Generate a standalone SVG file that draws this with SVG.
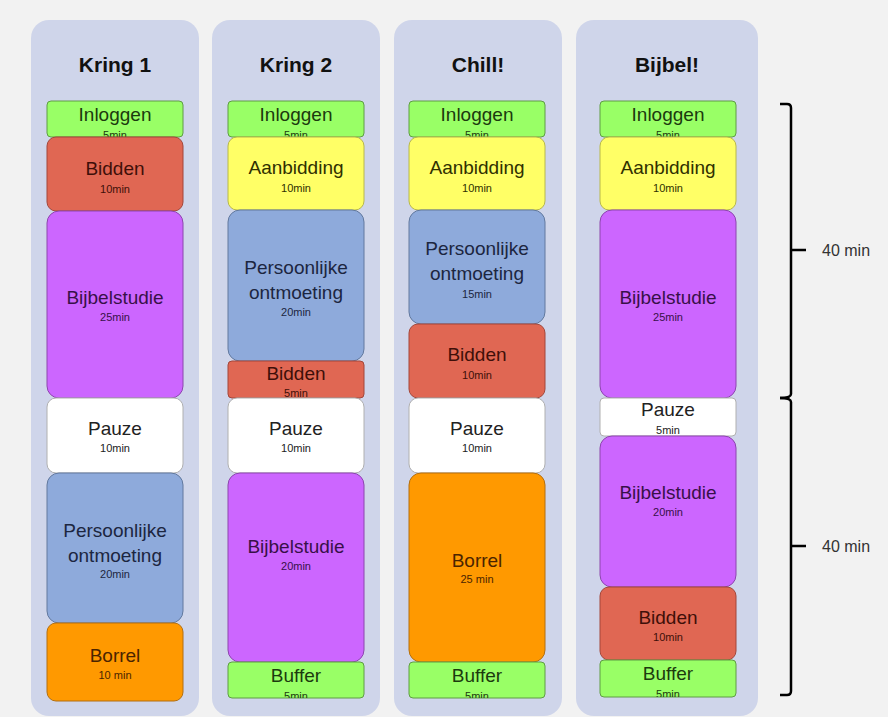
<svg xmlns="http://www.w3.org/2000/svg" width="888" height="717" viewBox="0 0 888 717">
<style>
text{font-family:"Liberation Sans",Arial,sans-serif;text-anchor:middle}
.title{font-size:21px;font-weight:bold;fill:#111}
.m{font-size:19px}
.s{font-size:11px}
.col{fill:#cfd5ea}
.green rect{fill:#99ff66;stroke:#5f9c45;stroke-width:1}
.green text{fill:#1c3a0e}
.red rect{fill:#e06753;stroke:#a3473a;stroke-width:1}
.red text{fill:#3e0f09}
.purple rect{fill:#cc66ff;stroke:#8c46ad;stroke-width:1}
.purple text{fill:#381048}
.yellow rect{fill:#ffff66;stroke:#b8b84a;stroke-width:1}
.yellow text{fill:#303000}
.blue rect{fill:#8eaadb;stroke:#62799e;stroke-width:1}
.blue text{fill:#1c2640}
.orange rect{fill:#ff9900;stroke:#b36f10;stroke-width:1}
.orange text{fill:#4a2400}
.white rect{fill:#ffffff;stroke:#b0b0b0;stroke-width:1}
.white text{fill:#222222}
.brace{fill:none;stroke:#000;stroke-width:2.5;stroke-linecap:butt}
.lbl{font-size:16px;fill:#333;text-anchor:start}
</style>
<defs>
<clipPath id="cb2"><rect x="228" y="662" width="136" height="36" rx="4"/></clipPath>
<clipPath id="cb3"><rect x="409" y="662" width="136" height="36" rx="4"/></clipPath>
<clipPath id="cb4"><rect x="600" y="660" width="136" height="37" rx="4"/></clipPath>
</defs>
<rect width="888" height="717" fill="#f2f2f2"/>

<g id="column-kring1">
<rect class="col" x="31" y="20" width="168" height="696" rx="18"/>
<text class="title" x="115" y="72">Kring 1</text>
<g id="k1-inloggen" class="green"><rect x="47" y="101" width="136" height="36" rx="4"/><text class="m" x="115" y="121">Inloggen</text><text class="s" x="115" y="139">5min</text></g>
<g id="k1-bidden" class="red"><rect x="47" y="137" width="136" height="74" rx="9"/><text class="m" x="115" y="175">Bidden</text><text class="s" x="115" y="193">10min</text></g>
<g id="k1-bijbelstudie" class="purple"><rect x="47" y="211" width="136" height="187" rx="12"/><text class="m" x="115" y="304">Bijbelstudie</text><text class="s" x="115" y="321">25min</text></g>
<g id="k1-pauze" class="white"><rect x="47" y="398" width="136" height="75" rx="9"/><text class="m" x="115" y="435">Pauze</text><text class="s" x="115" y="452">10min</text></g>
<g id="k1-persoonlijke" class="blue"><rect x="47" y="473" width="136" height="150" rx="12"/><text class="m" x="115" y="537">Persoonlijke</text><text class="m" x="115" y="562">ontmoeting</text><text class="s" x="115" y="578">20min</text></g>
<g id="k1-borrel" class="orange"><rect x="47" y="623" width="136" height="78" rx="9"/><text class="m" x="115" y="662">Borrel</text><text class="s" x="115" y="679">10 min</text></g>
</g>

<g id="column-kring2">
<rect class="col" x="212" y="20" width="168" height="696" rx="18"/>
<text class="title" x="296" y="72">Kring 2</text>
<g id="k2-inloggen" class="green"><rect x="228" y="101" width="136" height="36" rx="4"/><text class="m" x="296" y="121">Inloggen</text><text class="s" x="296" y="139">5min</text></g>
<g id="k2-aanbidding" class="yellow"><rect x="228" y="137" width="136" height="73" rx="9"/><text class="m" x="296" y="174">Aanbidding</text><text class="s" x="296" y="192">10min</text></g>
<g id="k2-persoonlijke" class="blue"><rect x="228" y="210" width="136" height="151" rx="12"/><text class="m" x="296" y="274">Persoonlijke</text><text class="m" x="296" y="299">ontmoeting</text><text class="s" x="296" y="316">20min</text></g>
<g id="k2-bidden" class="red"><rect x="228" y="361" width="136" height="37" rx="4"/><text class="m" x="296" y="380">Bidden</text><text class="s" x="296" y="397">5min</text></g>
<g id="k2-pauze" class="white"><rect x="228" y="398" width="136" height="75" rx="9"/><text class="m" x="296" y="435">Pauze</text><text class="s" x="296" y="452">10min</text></g>
<g id="k2-bijbelstudie" class="purple"><rect x="228" y="473" width="136" height="189" rx="12"/><text class="m" x="296" y="553">Bijbelstudie</text><text class="s" x="296" y="570">20min</text></g>
<g id="k2-buffer" class="green"><rect x="228" y="662" width="136" height="36" rx="4"/><g clip-path="url(#cb2)"><text class="m" x="296" y="682">Buffer</text><text class="s" x="296" y="700">5min</text></g></g>
</g>

<g id="column-chill">
<rect class="col" x="394" y="20" width="168" height="696" rx="18"/>
<text class="title" x="478" y="72">Chill!</text>
<g id="c-inloggen" class="green"><rect x="409" y="101" width="136" height="36" rx="4"/><text class="m" x="477" y="121">Inloggen</text><text class="s" x="477" y="139">5min</text></g>
<g id="c-aanbidding" class="yellow"><rect x="409" y="137" width="136" height="73" rx="9"/><text class="m" x="477" y="174">Aanbidding</text><text class="s" x="477" y="192">10min</text></g>
<g id="c-persoonlijke" class="blue"><rect x="409" y="210" width="136" height="114" rx="12"/><text class="m" x="477" y="255">Persoonlijke</text><text class="m" x="477" y="280">ontmoeting</text><text class="s" x="477" y="298">15min</text></g>
<g id="c-bidden" class="red"><rect x="409" y="324" width="136" height="74" rx="9"/><text class="m" x="477" y="361">Bidden</text><text class="s" x="477" y="379">10min</text></g>
<g id="c-pauze" class="white"><rect x="409" y="398" width="136" height="75" rx="9"/><text class="m" x="477" y="435">Pauze</text><text class="s" x="477" y="452">10min</text></g>
<g id="c-borrel" class="orange"><rect x="409" y="473" width="136" height="189" rx="12"/><text class="m" x="477" y="567">Borrel</text><text class="s" x="477" y="583">25 min</text></g>
<g id="c-buffer" class="green"><rect x="409" y="662" width="136" height="36" rx="4"/><g clip-path="url(#cb3)"><text class="m" x="477" y="682">Buffer</text><text class="s" x="477" y="700">5min</text></g></g>
</g>

<g id="column-bijbel">
<rect class="col" x="576" y="20" width="182" height="696" rx="18"/>
<text class="title" x="667" y="72">Bijbel!</text>
<g id="b-inloggen" class="green"><rect x="600" y="101" width="136" height="36" rx="4"/><text class="m" x="668" y="121">Inloggen</text><text class="s" x="668" y="139">5min</text></g>
<g id="b-aanbidding" class="yellow"><rect x="600" y="137" width="136" height="73" rx="9"/><text class="m" x="668" y="174">Aanbidding</text><text class="s" x="668" y="192">10min</text></g>
<g id="b-bijbelstudie1" class="purple"><rect x="600" y="210" width="136" height="188" rx="12"/><text class="m" x="668" y="304">Bijbelstudie</text><text class="s" x="668" y="321">25min</text></g>
<g id="b-pauze" class="white"><rect x="600" y="398" width="136" height="38" rx="4"/><text class="m" x="668" y="416">Pauze</text><text class="s" x="668" y="434">5min</text></g>
<g id="b-bijbelstudie2" class="purple"><rect x="600" y="436" width="136" height="151" rx="12"/><text class="m" x="668" y="499">Bijbelstudie</text><text class="s" x="668" y="516">20min</text></g>
<g id="b-bidden" class="red"><rect x="600" y="587" width="136" height="73" rx="9"/><text class="m" x="668" y="624">Bidden</text><text class="s" x="668" y="641">10min</text></g>
<g id="b-buffer" class="green"><rect x="600" y="660" width="136" height="37" rx="4"/><g clip-path="url(#cb4)"><text class="m" x="668" y="680">Buffer</text><text class="s" x="668" y="698">5min</text></g></g>
</g>

<g id="connectors">
<path class="brace" d="M780,104 H787 Q791,104 791,108 V394 Q791,398 780,398"/>
<path class="brace" d="M780,398 Q791,398 791,402 V691 Q791,695 787,695 H780"/>
<path class="brace" d="M791,250 H806 M791,546 H806"/>
</g>
<text class="lbl" x="822" y="256">40 min</text>
<text class="lbl" x="822" y="552">40 min</text>
</svg>
